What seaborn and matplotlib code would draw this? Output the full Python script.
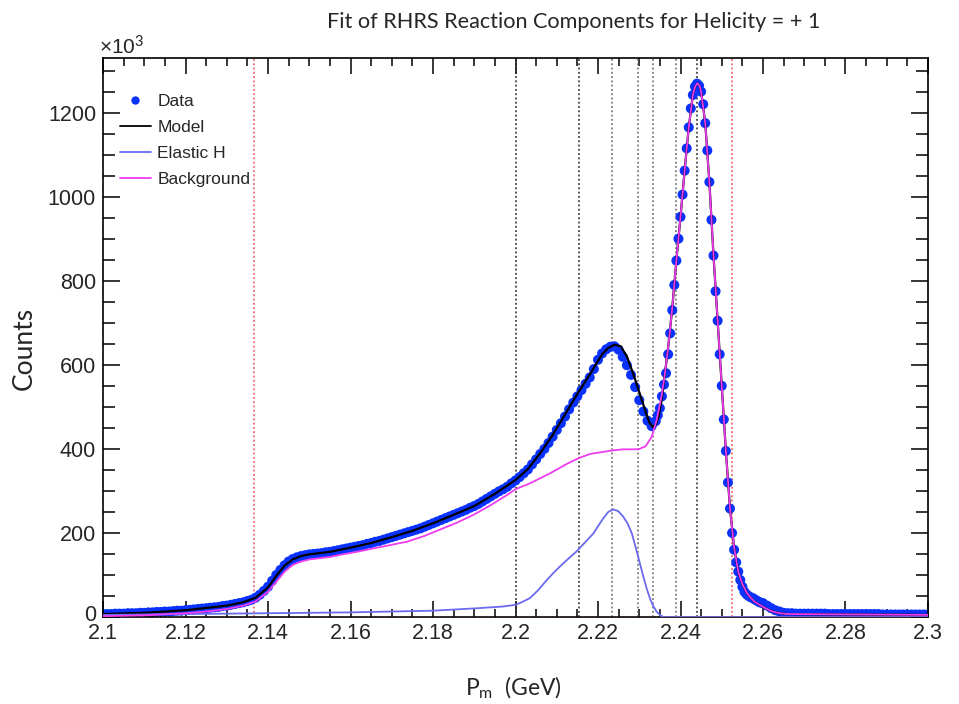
import numpy as np
import pandas as pd
import matplotlib
matplotlib.use("Agg")
import matplotlib.pyplot as plt
from matplotlib.lines import Line2D
from matplotlib.ticker import MultipleLocator, FixedLocator
from matplotlib.transforms import ScaledTranslation
import seaborn as sns

# ---------------- data ----------------
# data points, segment 1: 2.100 .. 2.234 step 0.001
data_y_seg1 = [7, 7, 7, 8, 8, 8, 9, 9, 9, 10,
               10, 11, 11, 12, 12, 13, 13, 14, 15, 15,
               16, 17, 18, 19, 20, 21, 22, 23, 24, 26,
               27, 29, 31, 33, 35, 38, 41, 46, 53, 62,
               72, 86, 100, 112, 123, 132, 138, 142, 145, 147,
               149, 150, 151, 152, 154, 155, 157, 159, 161, 163,
               165, 167, 169, 171, 174, 176, 179, 181, 184, 187,
               190, 193, 196, 199, 202, 205, 208, 211, 215, 219,
               223, 227, 231, 235, 239, 243, 247, 251, 255, 260,
               264, 269, 275, 281, 287, 293, 299, 304, 310, 318,
               325, 333, 342, 351, 363, 375, 388, 400, 414, 429,
               445, 461, 477, 494, 510, 525, 540, 555, 570, 590,
               612, 627, 637, 643, 644, 636, 619, 599, 576, 547,
               516, 489, 467, 454, 466]
# segment 2: 2.2345 .. 2.2600 step 0.0005
data_y_seg2 = [480, 497, 525, 553, 580, 625, 675, 730, 790, 848,
               900, 952, 1005, 1062, 1115, 1165, 1210, 1242, 1262, 1269,
               1264, 1250, 1220, 1175, 1110, 1035, 945, 860, 775, 705,
               625, 550, 470, 395, 320, 258, 200, 160, 130, 108,
               88, 72, 60, 54, 50, 47, 45, 42, 39, 36,
               34, 33]
# segment 3: 2.261 .. 2.300 step 0.001
data_y_seg3 = [27, 21, 16, 13, 10, 9, 9, 8, 8, 8,
               8, 8, 8, 8, 8, 7, 7, 7, 7, 7,
               7, 7, 7, 7, 7, 7, 7, 7, 6, 6,
               6, 6, 6, 6, 6, 6, 6, 6, 6, 6]

model_x = [2.100, 2.110, 2.120, 2.130, 2.134, 2.137, 2.140, 2.142, 2.144, 2.146,
           2.148, 2.150, 2.155, 2.160, 2.165, 2.170, 2.175, 2.180, 2.185, 2.190,
           2.195, 2.200, 2.203, 2.206, 2.209, 2.212, 2.215, 2.218, 2.221, 2.2225,
           2.224, 2.2255, 2.227, 2.2285, 2.230, 2.2315, 2.2325, 2.2333, 2.2340, 2.2347,
           2.2354]
model_y = [7, 10, 16, 27, 35, 46, 70, 98, 122, 137,
           145, 149, 155, 165, 176, 190, 205, 223, 243, 264,
           293, 326, 352, 390, 433, 482, 531, 577, 625, 640,
           648, 644, 620, 580, 535, 490, 462, 452, 458, 478,
           515]

bg_x = [2.100, 2.110, 2.120, 2.125, 2.130, 2.134, 2.137, 2.140, 2.142, 2.144,
        2.146, 2.148, 2.150, 2.155, 2.1575, 2.1615, 2.1655, 2.1736, 2.1777, 2.1817,
        2.1857, 2.1898, 2.1938, 2.1979, 2.2000, 2.2035, 2.2084, 2.2124, 2.2153, 2.2181,
        2.2233, 2.2261, 2.2298, 2.2315, 2.2330, 2.2342, 2.2354, 2.2362, 2.2370, 2.2380,
        2.2390, 2.2400, 2.2410, 2.2420, 2.2430, 2.2436, 2.2441, 2.2446, 2.2450, 2.2460,
        2.2470, 2.2480, 2.2490, 2.2500, 2.2510, 2.2520, 2.2530, 2.2540, 2.2550, 2.2560,
        2.2570, 2.2580, 2.2600, 2.2620, 2.2640, 2.2660, 2.3000]
bg_y = [2, 4, 9, 13, 19, 27, 37, 60, 84, 108,
        124, 132, 137, 143, 148, 155, 163, 179, 192, 208,
        224, 243, 265, 290, 304, 318, 342, 364, 378, 388,
        396, 399, 399, 406, 428, 468, 525, 578, 640, 735,
        848, 952, 1062, 1165, 1242, 1263, 1270, 1264, 1250, 1175,
        1035, 860, 705, 550, 395, 258, 165, 108, 78, 59,
        46, 36, 24, 14, 9, 7, 5]

el_x = [2.100, 2.120, 2.140, 2.160, 2.180, 2.191, 2.197, 2.200, 2.2015, 2.2035,
        2.2055, 2.2076, 2.2095, 2.2116, 2.2132, 2.2148, 2.2168, 2.2189, 2.2200, 2.2213,
        2.2225, 2.2237, 2.2249, 2.2261, 2.2272, 2.2282, 2.2294, 2.2302, 2.2310, 2.2318,
        2.2326, 2.2334, 2.2342, 2.2352, 2.2360, 2.3000]
el_y = [5, 7, 9, 11, 15, 21, 25, 29, 35, 45,
        64, 88, 108, 128, 142, 156, 177, 199, 216, 235,
        250, 256, 252, 239, 222, 199, 156, 126, 96, 68,
        44, 26, 13, 3, 0, 0]

red_lines = [2.1366, 2.2526]
black_lines = [2.2000, 2.2153, 2.2441]
gray_lines = [2.2233, 2.2298, 2.2334, 2.2388]

x_ticks = [2.10, 2.12, 2.14, 2.16, 2.18, 2.20, 2.22, 2.24, 2.26, 2.28, 2.30]
x_tick_labels = ["2.1", "2.12", "2.14", "2.16", "2.18", "2.2", "2.22", "2.24", "2.26", "2.28", "2.3"]
y_ticks = [0, 200, 400, 600, 800, 1000, 1200]
y_tick_labels = ["0", "200", "400", "600", "800", "1000", "1200"]

# ---------------- build tables ----------------
x1 = 2.100 + 0.001 * np.arange(len(data_y_seg1))
x2 = 2.2345 + 0.0005 * np.arange(len(data_y_seg2))
x3 = 2.261 + 0.001 * np.arange(len(data_y_seg3))
df_data = pd.DataFrame({"x": np.concatenate([x1, x2, x3]),
                        "y": np.concatenate([data_y_seg1, data_y_seg2, data_y_seg3])})
bg_x_arr = np.array(bg_x)
bg_y_arr = np.array(bg_y)
mask = bg_x_arr > 2.2355
df_model = pd.DataFrame({"x": np.concatenate([model_x, bg_x_arr[mask]]),
                         "y": np.concatenate([model_y, bg_y_arr[mask]])})
df_bg = pd.DataFrame({"x": bg_x, "y": bg_y})
df_el = pd.DataFrame({"x": el_x, "y": el_y})

# ---------------- style ----------------
sns.set_theme(style="ticks")
plt.rcParams["font.family"] = ["Liberation Sans", "DejaVu Sans"]
plt.rcParams["mathtext.fontset"] = "custom"
plt.rcParams["mathtext.rm"] = "Lato"
plt.rcParams["mathtext.it"] = "Lato:italic"

C_DATA = "#0a32ff"
C_EL = "#6a6aee"
C_BG = "#f03cf0"

fig = plt.figure(figsize=(9.59, 7.04), dpi=100)
fig.patch.set_facecolor("white")
ax = fig.add_axes([103 / 959, 1 - 617 / 704, (928 - 103) / 959, (617 - 58) / 704])
ax.set_facecolor("white")

for xv in red_lines:
    ax.axvline(xv, color="#e8504a", ls=(0, (1.2, 1.6)), lw=1.1, zorder=1)
for xv in black_lines:
    ax.axvline(xv, color="#222222", ls=(0, (1.2, 1.6)), lw=1.1, zorder=1)
for xv in gray_lines:
    ax.axvline(xv, color="#666666", ls=(0, (1.2, 1.6)), lw=1.1, zorder=1)
ax.axhline(0, color="#e8504a", ls=(0, (1.2, 1.6)), lw=1.0, zorder=6)

sns.scatterplot(data=df_data, x="x", y="y", ax=ax, color=C_DATA, s=52,
                edgecolor="none", linewidth=0, zorder=2, legend=False)
sns.lineplot(data=df_model, x="x", y="y", ax=ax, color="black", lw=1.6,
             sort=False, estimator=None, zorder=3, legend=False)
sns.lineplot(data=df_el, x="x", y="y", ax=ax, color=C_EL, lw=1.3,
             sort=False, estimator=None, zorder=4, legend=False)
sns.lineplot(data=df_bg, x="x", y="y", ax=ax, color=C_BG, lw=1.3,
             sort=False, estimator=None, zorder=5, legend=False)

ax.set_xlim(2.1, 2.3)
ax.set_ylim(0, 1330)
ax.set_xlabel("")
ax.set_ylabel("")

ax.xaxis.set_major_locator(FixedLocator(x_ticks))
ax.set_xticklabels(x_tick_labels)
ax.xaxis.set_minor_locator(MultipleLocator(0.005))
ax.yaxis.set_major_locator(FixedLocator(y_ticks))
ax.set_yticklabels(y_tick_labels)
ax.yaxis.set_minor_locator(MultipleLocator(50))

ax.tick_params(axis="both", which="both", direction="in", top=True, right=True,
               color="black", width=1.1)
ax.tick_params(axis="x", which="major", length=11.5, pad=4, labelsize=15.5)
ax.tick_params(axis="x", which="minor", length=5.8)
ax.tick_params(axis="y", which="major", length=12.5, pad=5, labelsize=15.5)
ax.tick_params(axis="y", which="minor", length=8.5)
for s in ax.spines.values():
    s.set_linewidth(1.2)
    s.set_color("black")
    s.set_visible(True)

# nudge the "0" y label slightly up, as in the reference
zero_lab = ax.yaxis.get_major_ticks()[0].label1
zero_lab.set_transform(zero_lab.get_transform() + ScaledTranslation(0, 3 / 72, fig.dpi_scale_trans))

handles = [
    Line2D([], [], marker="o", ls="none", color=C_DATA, markersize=6, markeredgewidth=0),
    Line2D([], [], color="black", lw=1.3),
    Line2D([], [], color=C_EL, lw=1.3),
    Line2D([], [], color=C_BG, lw=1.3),
]
ax.legend(handles, ["Data", "Model", "Elastic H", "Background"], loc="upper left",
          bbox_to_anchor=(0.012, 0.948), frameon=False, fontsize=12.5,
          handlelength=1.8, handletextpad=0.35, labelspacing=0.62, borderaxespad=0)

fig.text(574 / 959, 1 - 22 / 704, "Fit of RHRS Reaction Components for Helicity = + 1",
         ha="center", va="center", fontsize=15.6, family=["Lato", "DejaVu Sans"])
fig.text(99 / 959, 1 - 47 / 704, "×10$^{3}$", ha="left", va="center",
         fontsize=15, family=["Liberation Sans", "DejaVu Sans"])
fig.text(24 / 959, 1 - 348 / 704, "Counts", ha="center", va="center", rotation=90,
         fontsize=19, family=["Lato", "DejaVu Sans"])
fig.text(513 / 959, 1 - 688 / 704, "P$_{\\mathrm{m}}$  (GeV)", ha="center", va="center",
         fontsize=16.5, family=["Lato", "DejaVu Sans"])

fig.savefig("out.png", dpi=100, facecolor="white")
